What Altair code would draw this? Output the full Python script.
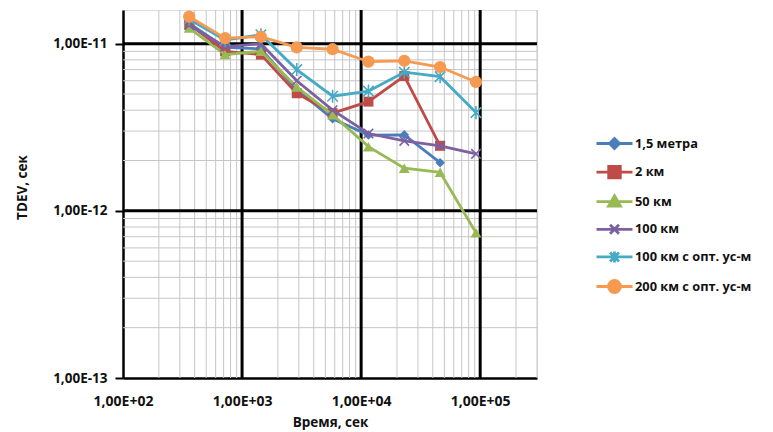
import altair as alt
import pandas as pd

# ---- data ----
tau = [360, 720, 1440, 2880, 5760, 11520, 23040, 46080, 92160]
names = ["1,5 метра", "2 км", "50 км", "100 км", "100 км с опт. ус-м", "200 км с опт. ус-м"]
s_15m = [1.32e-11, 9.5e-12, 9.3e-12, 5.3e-12, 3.55e-12, 2.84e-12, 2.85e-12, 1.94e-12]
s_2km = [1.31e-11, 9.0e-12, 8.6e-12, 5.05e-12, 3.84e-12, 4.5e-12, 6.4e-12, 2.45e-12]
s_50km = [1.24e-11, 8.6e-12, 9.0e-12, 5.5e-12, 3.75e-12, 2.42e-12, 1.8e-12, 1.7e-12, 7.4e-13]
s_100km = [1.29e-11, 9.6e-12, 1.0e-11, 6.0e-12, 4.0e-12, 2.9e-12, 2.62e-12, 2.45e-12, 2.19e-12]
s_100opt = [1.40e-11, 1.05e-11, 1.13e-11, 7.0e-12, 4.85e-12, 5.2e-12, 6.75e-12, 6.35e-12, 3.87e-12]
s_200opt = [1.45e-11, 1.08e-11, 1.10e-11, 9.5e-12, 9.26e-12, 7.8e-12, 7.9e-12, 7.25e-12, 5.9e-12]
series_vals = [s_15m, s_2km, s_50km, s_100km, s_100opt, s_200opt]

x_major_ticks = [1e2, 1e3, 1e4, 1e5]
y_major_ticks = [1e-13, 1e-12, 1e-11]
x_minor = [m * 10 ** e for e in (2, 3, 4) for m in range(2, 10)] + [2e5, 3e5]
x_major_grid = [1e3, 1e4, 1e5]
y_minor = [m * 10.0 ** e for e in (-13, -12) for m in range(2, 10)]
y_major_grid = [1e-12, 1e-11]

colors = ["#4A7EBB", "#BE4B48", "#98B954", "#7D60A0", "#46AAC5", "#F59A50"]

rows = []
for n, vals in zip(names, series_vals):
    for t, v in zip(tau, vals):
        rows.append({"series": n, "tau": t, "tdev": v})
df = pd.DataFrame(rows)

FONT = "Open Sans"
xscale = alt.Scale(type="log", domain=[100, 3e5], nice=False)
yscale = alt.Scale(type="log", domain=[1e-13, 1.59e-11], nice=False)

x_axis = alt.Axis(values=x_major_ticks, grid=False, ticks=False, domainColor="black",
                  domainWidth=2.5, labelFont=FONT, labelFontSize=14, labelFontWeight="bold",
                  labelColor="#111111", labelPadding=16, labelFlush=False,
                  labelExpr="'1,00E+' + (round(log(datum.value)/LN10) < 10 ? '0' : '') + round(log(datum.value)/LN10)",
                  title="Время, сек", titleFont=FONT, titleFontSize=13.5, titleFontWeight="bold",
                  titleColor="#111111", titleY=37, titleBaseline="top")
y_axis = alt.Axis(values=y_major_ticks, grid=False, ticks=True, tickSize=8, tickWidth=2,
                  tickColor="black", domainColor="black", domainWidth=2.5,
                  labelFont=FONT, labelFontSize=13.5, labelFontWeight="bold", labelColor="#111111",
                  labelPadding=8, labelFlush=False,
                  labelExpr="'1,00E' + round(log(datum.value)/LN10)",
                  title="TDEV, сек", titleFont=FONT, titleFontSize=13.5, titleFontWeight="bold",
                  titleColor="#111111", titleX=-94, titleY=177)

X = lambda f: alt.X(f, scale=xscale, axis=x_axis)
Y = lambda f: alt.Y(f, scale=yscale, axis=y_axis)

grid_layers = [
    alt.Chart(pd.DataFrame({"v": x_minor})).mark_rule(color="#c6c6c6", strokeWidth=1).encode(x=X("v:Q")),
    alt.Chart(pd.DataFrame({"v": y_minor})).mark_rule(color="#c6c6c6", strokeWidth=1).encode(y=Y("v:Q")),
    alt.Chart(pd.DataFrame({"v": x_major_grid})).mark_rule(color="black", strokeWidth=3).encode(x=X("v:Q")),
    alt.Chart(pd.DataFrame({"v": y_major_grid})).mark_rule(color="black", strokeWidth=3).encode(y=Y("v:Q")),
]

plot_shapes = ["diamond", "square", "triangle-up",
               "M-1,-1L1,1M-1,1L1,-1",
               "M-1,-1L1,1M-1,1L1,-1M0,-1.25L0,1.25",
               "circle"]
plot_sizes = [90, 100, 120, 90, 110, 150]
plot_filled = [True, True, True, False, False, True]

series_layers = []
for n, c, shp, sz, fl in zip(names, colors, plot_shapes, plot_sizes, plot_filled):
    base = alt.Chart(df).transform_filter(alt.datum.series == n)
    series_layers.append(base.mark_line(color=c, strokeWidth=2.8).encode(x=X("tau:Q"), y=Y("tdev:Q")))
    if fl:
        pm = base.mark_point(filled=True, opacity=1, color=c, size=sz)
    else:
        pm = base.mark_point(filled=False, opacity=1, color=c, size=sz, strokeWidth=1.6)
    series_layers.append(pm.encode(x=X("tau:Q"), y=Y("tdev:Q"), shape=alt.value(shp)))

L = "M-1.8,0L1.8,0"
legend_paths = [
    L + "M0,-0.5L0.5,0L0,0.5L-0.5,0Z",
    L + "M-0.58,-0.58L0.58,-0.58L0.58,0.58L-0.58,0.58Z",
    L + "M0,-0.6L0.6,0.45L-0.6,0.45Z",
    L + "M-0.45,-0.45L0.45,0.45M-0.45,0.45L0.45,-0.45",
    L + "M-0.45,-0.45L0.45,0.45M-0.45,0.45L0.45,-0.45M0,-0.55L0,0.55",
    L + "M0.6,0A0.6,0.6,0,1,1,-0.6,0A0.6,0.6,0,1,1,0.6,0Z",
]
leg = alt.Legend(orient="none", legendX=480, legendY=122, title=None, symbolSize=400,
                 symbolStrokeWidth=2.8, labelFont=FONT, labelFontSize=12.8, labelFontWeight="bold",
                 labelColor="#111111", labelOffset=9, rowPadding=5.6, padding=0, symbolOpacity=1,
                 labelLimit=200)
cscale = alt.Scale(domain=names, range=colors)
legend_layer = alt.Chart(df).transform_filter("false").mark_point(filled=True, opacity=1).encode(
    x=X("tau:Q"), y=Y("tdev:Q"),
    color=alt.Color("series:N", scale=cscale, legend=leg),
    stroke=alt.Stroke("series:N", scale=cscale, legend=leg),
    shape=alt.Shape("series:N", scale=alt.Scale(domain=names, range=legend_paths), legend=leg),
)

chart = alt.layer(*grid_layers, *series_layers, legend_layer).properties(
    width=414, height=368,
    autosize=alt.AutoSizeParams(type="none"),
    padding={"left": 115, "top": 2, "right": 227, "bottom": 52},
).configure_view(stroke=None).configure(background="white")

chart.save("out.html", embed_options={"renderer": "svg", "actions": False})
